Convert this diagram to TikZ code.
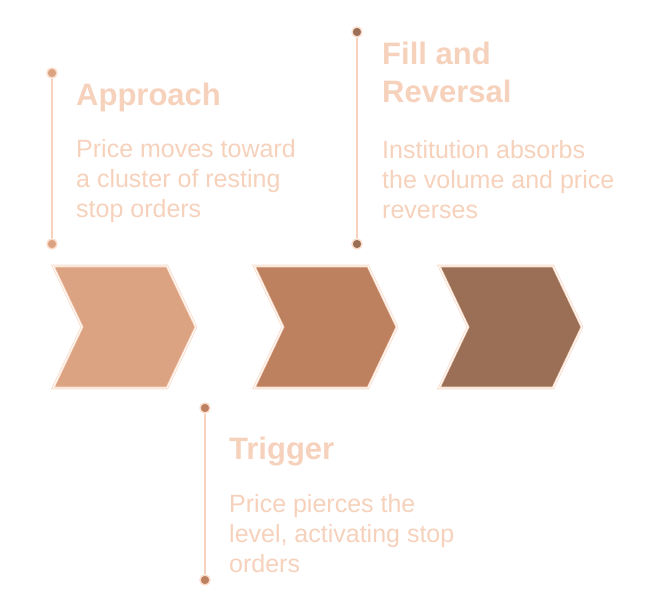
\documentclass[tikz,border=0pt]{standalone}
\usepackage{fontspec}
\setmainfont{Liberation Sans}
\usepackage{xcolor}
\usetikzlibrary{positioning}
\definecolor{stepA}{HTML}{DCA382}
\definecolor{stepB}{HTML}{BE8160}
\definecolor{stepC}{HTML}{9B6F55}
\definecolor{peach}{HTML}{F6D1BB}
\definecolor{rim}{HTML}{FADCCB}
\definecolor{stem}{HTML}{CFAE9A}
\tikzset{
  chev/.style={draw=rim,double=white,double distance=0.8pt,line width=0.9pt,line join=miter},
  dot/.style={circle,draw=rim,line width=1.4pt,minimum size=10pt,inner sep=0pt},
  stemline/.style={draw=stem,double=peach,double distance=1.2pt,line width=0.7pt},
  ttl/.style={anchor=base west,inner sep=0pt,align=left,text=peach,
    font=\fontsize{31}{38}\selectfont\bfseries},
  txt/.style={anchor=base west,inner sep=0pt,align=left,text=peach,
    font=\fontsize{25}{30}\selectfont},
}

\begin{document}
\begin{tikzpicture}[x=1pt,y=-1pt]
  \useasboundingbox (0,0) rectangle (653,600);
  % chevrons
  \draw[chev,fill=stepA] (53,266) -- (167,266) -- (196,327) -- (167,388)
    -- (53,388) -- (82,327) -- cycle;
  \draw[chev,fill=stepB] (254,266) -- (368,266) -- (397,327) -- (368,388)
    -- (254,388) -- (283,327) -- cycle;
  \draw[chev,fill=stepC] (439,266) -- (553,266) -- (582,327) -- (553,388)
    -- (439,388) -- (468,327) -- cycle;
  % stems
  \node[dot,fill=stepA] (a1) at (52,73) {};
  \node[dot,fill=stepA] (a2) at (52,244) {};
  \node[dot,fill=stepC] (f1) at (357,32) {};
  \node[dot,fill=stepC] (f2) at (357,244) {};
  \node[dot,fill=stepB] (t1) at (205,408) {};
  \node[dot,fill=stepB] (t2) at (205,580) {};
  \draw[stemline] (a1) -- (a2);
  \draw[stemline] (f1) -- (f2);
  \draw[stemline] (t1) -- (t2);
  % labels (base = last line)
  \node[ttl] (ap) at (76,105) {Approach};
  \node[txt] (apt) at (76,217) {Price moves toward\\a cluster of resting\\stop orders};
  \node[ttl] (fr) at (382,102) {Fill and\\Reversal};
  \node[txt] (frt) at (382,218) {Institution absorbs\\the volume and price\\reverses};
  \node[ttl] (tr) at (229,459) {Trigger};
  \node[txt] (trt) at (229,572) {Price pierces the\\level, activating stop\\orders};
\end{tikzpicture}
\end{document}
